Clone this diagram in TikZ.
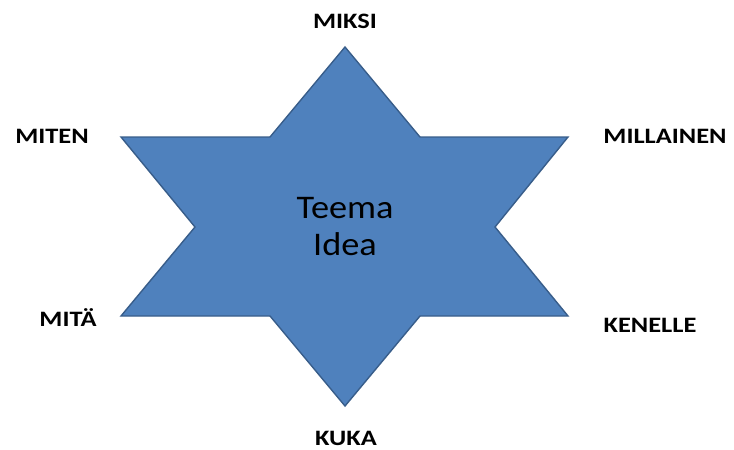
\documentclass[tikz,border=0pt]{standalone}
\usepackage{fontspec}
\usepackage{xcolor}
\usepackage{tikz}
\usetikzlibrary{calc, positioning}

\newfontfamily\lblfont[FakeStretch=1.2]{Carlito}
\newfontfamily\midfont[FakeStretch=1.1]{Carlito}
\definecolor{tahtisin}{HTML}{4F81BD}
\definecolor{reunasin}{HTML}{385D8A}

\tikzset{
    kysymys/.style={font=\lblfont\bfseries\fontsize{22}{25}\selectfont, text=black, inner sep=0pt},
    tahti/.style={fill=tahtisin, draw=reunasin, line width=1.4pt, line join=miter}
}

\begin{document}
\begin{tikzpicture}[x=1pt, y=-1pt]
    \useasboundingbox (0,0) rectangle (734,450);
    
    % Tähti
    \draw[tahti] (345,47) -- (420,137) -- (568,137) -- (495,227) -- (568,316)
        -- (420,316) -- (345,406) -- (270,316) -- (121,316) -- (195,227)
        -- (121,137) -- (270,137) -- cycle;
    
    % Keskiteksti
    \node[font=\midfont\fontsize{33}{37}\selectfont, align=center] (teema) at (345,227) {Teema\\Idea};
    
    % Kysymykset
    \node[kysymys] (miksi) at (345,21) {MIKSI};
    \node[kysymys] (miten) at (52,136) {MITEN};
    \node[kysymys] (millainen) at (665,136) {MILLAINEN};
    \node[kysymys] (mita) at (68,318) {MITÄ};
    \node[kysymys] (kenelle) at (650,325) {KENELLE};
    \node[kysymys] (kuka) at (346,438) {KUKA};
\end{tikzpicture}
\end{document}
